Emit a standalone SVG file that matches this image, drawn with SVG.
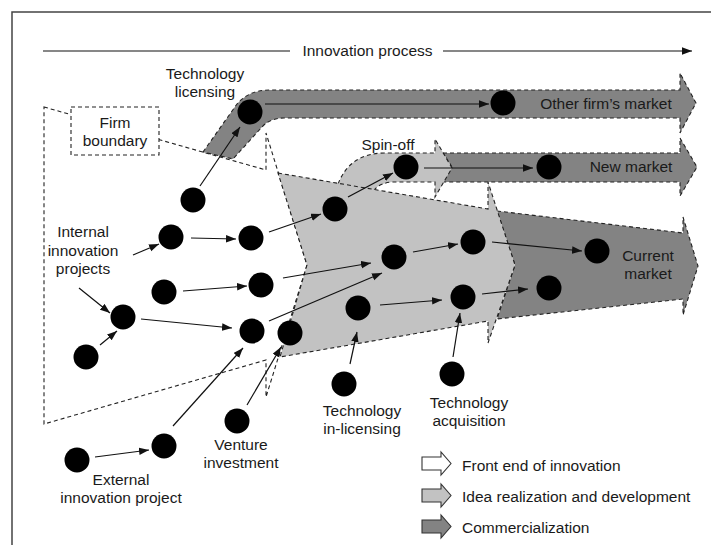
<svg xmlns="http://www.w3.org/2000/svg" width="711" height="545" viewBox="0 0 711 545">
<style>
.dash{stroke:#222;stroke-width:1.1;stroke-dasharray:4 3;stroke-linejoin:miter}
.white{fill:#fff}
.light{fill:#c2c2c2}
.dark{fill:#838383}
.node{fill:#000}
.con{stroke:#111;stroke-width:1.2;fill:none;marker-end:url(#ah)}
text{font-family:"Liberation Sans",Arial,sans-serif;font-size:15.5px;fill:#1a1a1a}
.m{text-anchor:middle}
.leg{stroke:#333;stroke-width:1.1}
</style>
<defs>
<marker id="ah" markerUnits="userSpaceOnUse" markerWidth="11" markerHeight="8" refX="10" refY="3.75" orient="auto">
<path d="M0,0 L10,3.75 L0,7.5 z" fill="#111"/>
</marker>
</defs>
<rect width="711" height="545" fill="#fff"/>
<path d="M12,545 L12,12 L711,12" fill="none" stroke="#444" stroke-width="1.5"/>

<g id="process-axis">
<line x1="43" y1="51" x2="290" y2="51" stroke="#111" stroke-width="1.2"/>
<text x="367.5" y="56" class="m">Innovation process</text>
<line x1="443" y1="51" x2="692" y2="51" stroke="#111" stroke-width="1.2" marker-end="url(#ah)"/>
</g>

<g id="regions">
<path id="front-end" class="white dash" d="M44,107 L266,170 L266,133 L307,265 L266,397 L266,360 L44,424 Z"/>
<path id="other-firm-band" class="dark dash" d="M203,152 L237,104 Q249,90 270,90 L680,90 L680,73 L696,103 L680,133 L680,118 L284,118 Q270,118 262,127 L233,159 Z"/>
<rect id="firm-boundary-box" x="71" y="107" width="88" height="48" class="white dash"/>
<path id="current-market" class="dark dash" d="M497,211 L683,233 L683,217 L698,266 L683,315 L683,299 L497,319 L515,265 Z"/>
<path id="new-market-bar" class="dark dash" d="M443,153 L680,153 L680,138 L697,167 L680,196 L680,182 L443,182 L452,167 Z"/>
<path id="spin-off-band" class="light dash" d="M338,184 Q350,153 385,153 L435,153 L435,139 L452,168 L435,197 L435,182 L392,182 Q380,183 374,190"/>
<path id="development" class="light dash" d="M278,173 L488,209 L488,182 L515,265 L488,343 L488,321 L280,357 L307,265 Z"/>
</g>

<g id="connectors">
<path class="con" d="M200,186 L240,127"/>
<path class="con" d="M265,104 L489,104"/>
<path class="con" d="M133,255 L159,244"/>
<path class="con" d="M191,238 L236,239"/>
<path class="con" d="M269,232 L321,214"/>
<path class="con" d="M348,197 L393,173"/>
<path class="con" d="M424,168 L533,168"/>
<path class="con" d="M283,278 L371,263"/>
<path class="con" d="M269,321 L382,273"/>
<path class="con" d="M413,252 L458,244"/>
<path class="con" d="M492,242 L582,251"/>
<path class="con" d="M380,305 L442,300"/>
<path class="con" d="M482,294 L528,289"/>
<path class="con" d="M183,291 L247,286"/>
<path class="con" d="M141,319 L232,328"/>
<path class="con" d="M100,345 L117,331"/>
<path class="con" d="M79,288 L110,313"/>
<path class="con" d="M173,426 L243,348"/>
<path class="con" d="M95,457 L149,450"/>
<path class="con" d="M247,405 L281,347"/>
<path class="con" d="M350,364 L357,332"/>
<path class="con" d="M453,357 L460,313"/>
</g>

<g id="n-tech-licensing"><circle class="node" cx="250" cy="112" r="12.5"/></g>
<g id="n-a"><circle class="node" cx="193" cy="200" r="12.5"/></g>
<g id="n-b"><circle class="node" cx="171" cy="237" r="12.5"/></g>
<g id="n-c"><circle class="node" cx="251" cy="238" r="12.5"/></g>
<g id="n-d"><circle class="node" cx="335" cy="209" r="12.5"/></g>
<g id="n-spin-off"><circle class="node" cx="406" cy="167" r="12.5"/></g>
<g id="n-other-firm"><circle class="node" cx="503" cy="103" r="12.5"/></g>
<g id="n-new-market"><circle class="node" cx="549" cy="167" r="12.5"/></g>
<g id="n-e"><circle class="node" cx="164" cy="292" r="12.5"/></g>
<g id="n-f"><circle class="node" cx="261" cy="285" r="12.5"/></g>
<g id="n-g"><circle class="node" cx="123" cy="317" r="12.5"/></g>
<g id="n-h"><circle class="node" cx="252" cy="331" r="12.5"/></g>
<g id="n-i"><circle class="node" cx="290" cy="333" r="12.5"/></g>
<g id="n-j"><circle class="node" cx="86" cy="357" r="12.5"/></g>
<g id="n-k"><circle class="node" cx="394" cy="257" r="12.5"/></g>
<g id="n-l"><circle class="node" cx="473" cy="242" r="12.5"/></g>
<g id="n-current-market"><circle class="node" cx="597" cy="251" r="12.5"/></g>
<g id="n-n"><circle class="node" cx="358" cy="308" r="12.5"/></g>
<g id="n-o"><circle class="node" cx="463" cy="297" r="12.5"/></g>
<g id="n-p"><circle class="node" cx="549" cy="288" r="12.5"/></g>
<g id="n-in-licensing"><circle class="node" cx="344" cy="384" r="12.5"/></g>
<g id="n-acquisition"><circle class="node" cx="452" cy="374" r="12.5"/></g>
<g id="n-venture"><circle class="node" cx="237" cy="421" r="12.5"/></g>
<g id="n-t"><circle class="node" cx="164" cy="446" r="12.5"/></g>
<g id="n-external"><circle class="node" cx="77" cy="460" r="12.5"/></g>

<g id="labels">
<text x="205" y="79" class="m">Technology</text>
<text x="205" y="97" class="m">licensing</text>
<text x="115" y="128" class="m">Firm</text>
<text x="115" y="146" class="m">boundary</text>
<text x="83" y="237" class="m">Internal</text>
<text x="83" y="256" class="m">innovation</text>
<text x="83" y="274" class="m">projects</text>
<text x="388" y="150" class="m">Spin-off</text>
<text x="606" y="109" class="m">Other firm’s market</text>
<text x="631" y="172" class="m">New market</text>
<text x="648" y="261" class="m">Current</text>
<text x="648" y="279" class="m">market</text>
<text x="241" y="450" class="m">Venture</text>
<text x="241" y="468" class="m">investment</text>
<text x="121" y="485" class="m">External</text>
<text x="121" y="503" class="m">innovation project</text>
<text x="362" y="416" class="m">Technology</text>
<text x="362" y="434" class="m">in-licensing</text>
<text x="469" y="408" class="m">Technology</text>
<text x="469" y="426" class="m">acquisition</text>
</g>

<g id="legend">
<path class="white leg" d="M422,457 L441,457 L441,452 L451,463.5 L441,475 L441,470 L422,470 Z"/>
<text x="462" y="471">Front end of innovation</text>
<path class="light leg" d="M422,489 L441,489 L441,484 L451,495.5 L441,507 L441,502 L422,502 Z"/>
<text x="462" y="502">Idea realization and development</text>
<path class="dark leg" d="M422,520 L441,520 L441,515 L451,526.5 L441,538 L441,533 L422,533 Z"/>
<text x="462" y="533">Commercialization</text>
</g>
</svg>
